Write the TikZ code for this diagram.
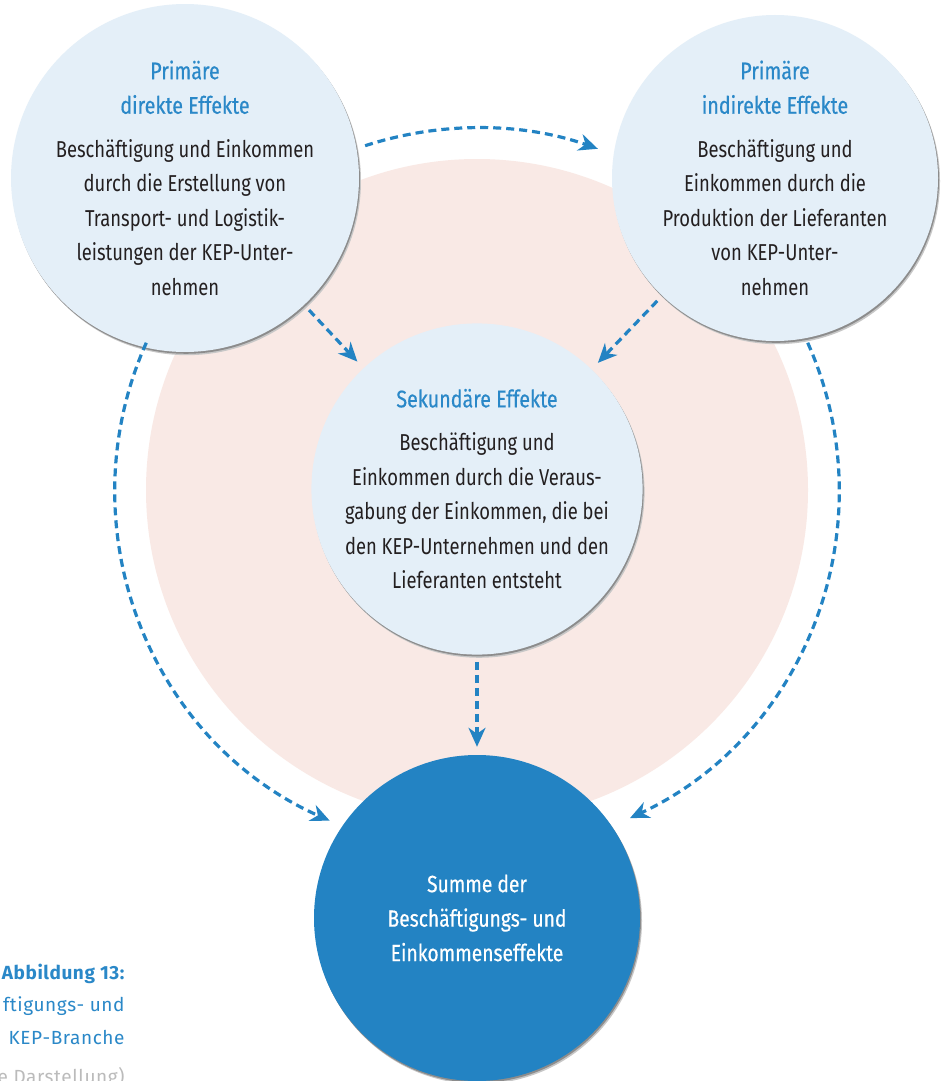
\documentclass[tikz,border=0pt]{standalone}
\usepackage{fontspec}
\setmainfont{Fira Sans}[FakeStretch=0.8]
\newfontfamily\titlefont{Fira Sans}[FakeStretch=0.82, FakeBold=0.5]
\newfontfamily\capfont{Fira Sans}[LetterSpace=3]
\usetikzlibrary{arrows.meta}
\definecolor{kblue}{HTML}{2383C3}
\definecolor{ktitle}{HTML}{2A88C8}
\definecolor{klight}{HTML}{E4EFF8}
\definecolor{kpink}{HTML}{F9E9E5}
\definecolor{kbody}{HTML}{231F20}
\definecolor{kgray}{HTML}{BBBBBB}
\newcommand{\ktit}[1]{{\titlefont\fontsize{24}{34.5}\selectfont\textcolor{ktitle}{#1}}}
\begin{document}
\begin{tikzpicture}[x=1pt,y=1pt,
  circbase/.style={circle, minimum size=326pt, inner sep=0pt, align=center,
    font=\fontsize{23}{34.5}\selectfont,
    preaction={fill=black!22, transform canvas={shift={(2pt,-3.2pt)}}},
    preaction={fill=black!45, transform canvas={shift={(1pt,-1.8pt)}}}},
  lightcirc/.style={circbase, fill=klight, text=kbody},
  darkcirc/.style={circbase, fill=kblue, text=white, font=\titlefont\fontsize{23.5}{34.5}\selectfont},
  arr/.style={draw=kblue, line width=3.2pt, dash pattern=on 8pt off 5pt,
    -{Stealth[length=19pt,width=17pt,inset=6pt]}},
  captxt/.style={anchor=base east, font=\capfont\fontsize{19}{22}\selectfont},
]
\useasboundingbox (0,0) rectangle (946,-1081);
\fill[white] (0,0) rectangle (946,-1081);
\coordinate (pc) at (477,-490);
\fill[kpink] (pc) circle[radius=331];

% circles
\node[lightcirc] (tl) at (185,-178) {\ktit{Primäre}\\\ktit{direkte Effekte}\\[9pt]
  Beschäftigung und Einkommen\\durch die Erstellung von\\Transport- und Logistik-\\leistungen der KEP-Unter-\\nehmen};
\node[lightcirc] (tr) at (775,-178) {\ktit{Primäre}\\\ktit{indirekte Effekte}\\[9pt]
  Beschäftigung und\\Einkommen durch die\\Produktion der Lieferanten\\von KEP-Unter-\\nehmen};
\node[lightcirc] (ctr) at (477,-489) {\ktit{Sekundäre Effekte}\\[9pt]
  Beschäftigung und\\Einkommen durch die Veraus-\\gabung der Einkommen, die bei\\den KEP-Unternehmen und den\\Lieferanten entsteht};
\node[darkcirc] (sum) at (477,-918) {Summe der\\Beschäftigungs- und\\Einkommenseffekte};

% connectors
\draw[arr, shorten <=7pt, shorten >=9pt] (tl) -- (ctr);
\draw[arr, shorten <=7pt, shorten >=9pt] (tr) -- (ctr);
\draw[arr, shorten <=7pt, shorten >=8pt] (ctr) -- (sum);
\coordinate (a1) at ([shift={(108:362)}]pc);
\coordinate (a2) at ([shift={(156:362)}]pc);
\coordinate (a3) at ([shift={(24:362)}]pc);
\draw[arr] (a1) arc[start angle=108, end angle=70.5, radius=362];
\draw[arr] (a2) arc[start angle=156, end angle=246, radius=362];
\draw[arr] (a3) arc[start angle=24, end angle=-65, radius=362];

% caption (cut off at the left)
\node[captxt, text=ktitle] (cap1) at (128,-979) {\bfseries Abbildung 13:};
\node[captxt, text=ktitle] (cap2) at (128,-1011) {ftigungs- und};
\node[captxt, text=ktitle] (cap3) at (128,-1044) {KEP-Branche};
\node[captxt, text=kgray] (cap4) at (128,-1083) {e Darstellung)};
\end{tikzpicture}
\end{document}
